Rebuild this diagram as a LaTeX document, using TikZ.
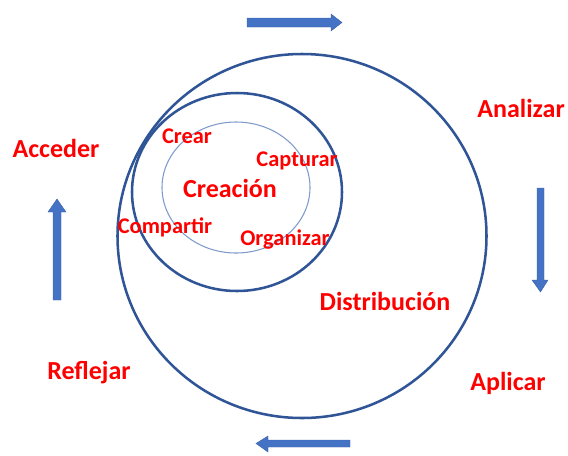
\documentclass[tikz,border=0pt]{standalone}
\usepackage{fontspec}
\setmainfont{Carlito}
\definecolor{ringblue}{HTML}{2F5597}
\definecolor{innerblue}{HTML}{7F9BCB}
\definecolor{arrowblue}{HTML}{4472C4}
\definecolor{labelred}{HTML}{FF0000}
\begin{document}
\begin{tikzpicture}[x=0.75pt,y=-0.75pt,
  biglabel/.style={text=labelred,font=\fontsize{19.5}{22}\selectfont\bfseries,inner sep=0pt},
  smalllabel/.style={text=labelred,font=\fontsize{16.8}{19}\selectfont\bfseries,inner sep=0pt},
  ring/.style={draw=ringblue,line width=1.9pt},
  blockarrow/.style={fill=arrowblue,draw=arrowblue!85!black,line width=0.3pt}]
\useasboundingbox (0,0) rectangle (568,455);
% circles
\draw[ring] (302,236) ellipse [x radius=184.5, y radius=182];
\draw[ring] (237,192) ellipse [x radius=105, y radius=99];
\draw[draw=innerblue,line width=0.8pt] (236,187.5) ellipse [x radius=74, y radius=65.5];
% block arrows
\filldraw[blockarrow] (247,18) -- (331,18) -- (331,14) -- (342,22.5) -- (331,31) -- (331,27) -- (247,27) -- cycle;
\filldraw[blockarrow] (537,188) -- (544,188) -- (544,280) -- (548,280) -- (540.5,292) -- (532,280) -- (537,280) -- cycle;
\filldraw[blockarrow] (53,300) -- (53,212) -- (48,212) -- (57,199) -- (66,212) -- (61,212) -- (61,300) -- cycle;
\filldraw[blockarrow] (350,440) -- (268,440) -- (268,436) -- (256,443.5) -- (268,452) -- (268,447) -- (350,447) -- cycle;
% labels
\node[biglabel] (acceder) at (56,148) {Acceder};
\node[biglabel] (reflejar) at (89,373) {Reflejar};
\node[biglabel] (analizar) at (521,108) {Analizar};
\node[biglabel] (aplicar) at (508,383) {Aplicar};
\node[biglabel] (distribucion) at (385,301) {Distribución};
\node[biglabel] (creacion) at (230,188) {Creación};
\node[smalllabel] (crear) at (187,136) {Crear};
\node[smalllabel] (capturar) at (297,161) {Capturar};
\node[smalllabel] (compartir) at (165,227) {Compartir};
\node[smalllabel] (organizar) at (285,240) {Organizar};
\end{tikzpicture}
\end{document}
